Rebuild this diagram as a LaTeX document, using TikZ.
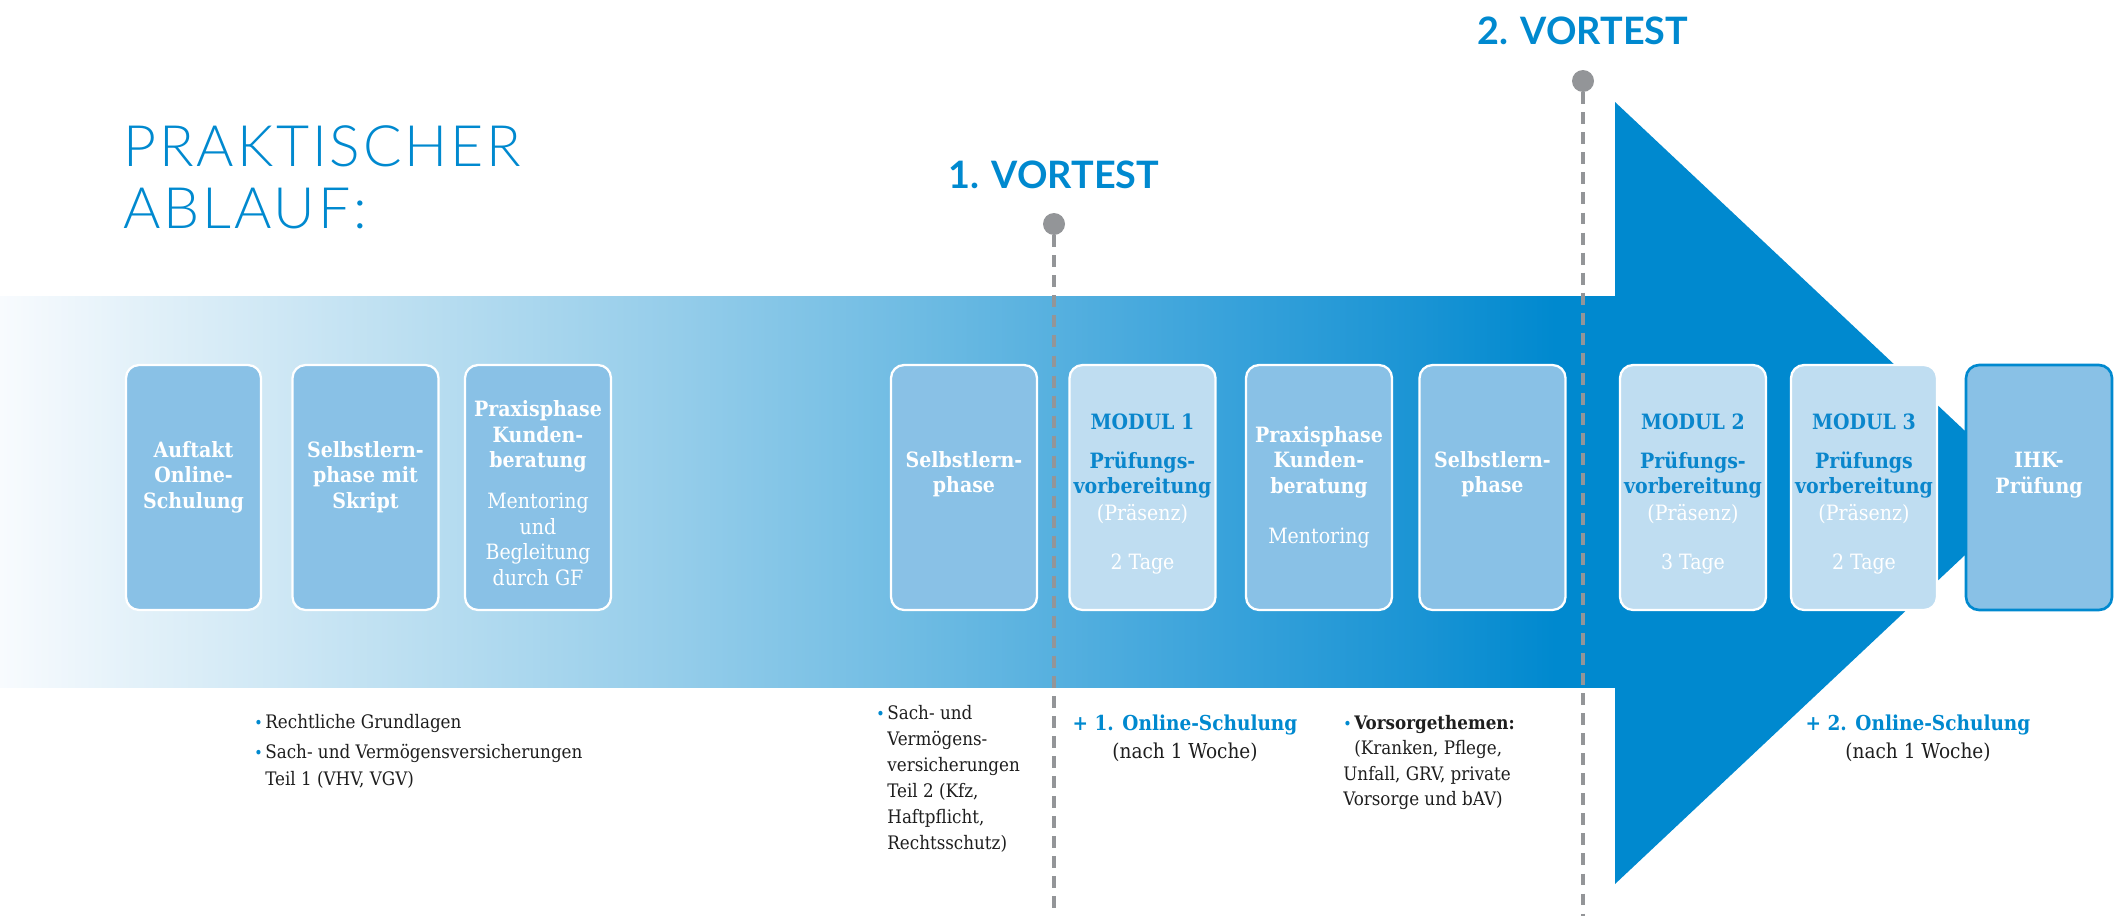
\documentclass[tikz,border=0pt]{standalone}
\usepackage{fontspec}
\setmainfont{DejaVu Serif Condensed}
\newfontfamily\headfont{Lato}
\newfontfamily\thinfont{Lato Light}[LetterSpace=5]
\usepackage{tikz}
\usetikzlibrary{positioning}
\usepackage{xcolor}
\definecolor{mainblue}{HTML}{0089CF}
\definecolor{boxblue}{HTML}{89C1E6}
\definecolor{modfill}{HTML}{BFDDF1}
\definecolor{modblue}{HTML}{0A86CC}
\definecolor{vgray}{HTML}{939598}
\definecolor{notegray}{HTML}{1E1E1E}
\definecolor{bandA}{HTML}{F8FBFE}
\definecolor{bandB}{HTML}{E3F1F9}
\definecolor{bandC}{HTML}{BCDFF1}
\definecolor{bandD}{HTML}{95CDEA}
\definecolor{bandE}{HTML}{69B9E2}
\definecolor{bandF}{HTML}{3AA3DB}
\definecolor{bandG}{HTML}{1A94D4}
\pgfdeclarehorizontalshading{bandshade}{100bp}{color(0bp)=(bandA); color(25bp)=(bandA);
  color(29.2bp)=(bandB); color(37.5bp)=(bandC); color(45.9bp)=(bandD); color(54.3bp)=(bandE);
  color(62.6bp)=(bandF); color(68.9bp)=(bandG); color(73.1bp)=(mainblue); color(100bp)=(mainblue)}
\tikzstyle{phase}=[draw=white,line width=1.3pt,rounded corners=0.26cm,fill=boxblue,minimum width=2.92cm,minimum height=4.9cm,inner sep=0]
\tikzstyle{phase modul}=[phase,fill=modfill]
\tikzstyle{phase exam}=[phase,draw=mainblue,line width=1.5pt]
\tikzstyle{btxt}=[text=white,font=\fontsize{12}{14.5}\selectfont\bfseries,align=center,inner sep=0]
\tikzstyle{rtxt}=[btxt,font=\fontsize{12}{14.5}\selectfont]
\tikzstyle{mtitle}=[btxt,text=modblue]
\tikzstyle{note}=[text=notegray,font=\fontsize{10.6}{15}\selectfont,align=left,inner sep=0,anchor=north west]
\tikzstyle{online}=[text=notegray,font=\fontsize{11.7}{15.4}\selectfont,align=center,inner sep=0,anchor=north]
\tikzstyle{vortest}=[text=mainblue,font=\headfont\bfseries\fontsize{21.5}{24}\selectfont,inner sep=0]
\tikzstyle{pin}=[circle,fill=vgray,minimum size=0.44cm,inner sep=0]
\tikzstyle{pinline}=[vgray,line width=2.3pt,dash pattern=on 6.8pt off 4.6pt]
\newcommand{\bul}{\textcolor{mainblue}{\fontsize{9}{9}\selectfont\textbullet}\hspace{1.5pt}}

\begin{document}
\begin{tikzpicture}[x=0.02cm,y=-0.02cm]
    \useasboundingbox (0,0) rectangle (2119,916);

    % ARROW
    \shade[shading=bandshade] (0,296) rectangle (1616,687);
    \fill[mainblue] (1615,102) -- (2031,493) -- (1615,884) -- cycle;

    % TITLE
    \node[anchor=north west,inner sep=0,text=mainblue,align=left,
          font=\thinfont\fontsize{32.5}{35.3}\selectfont] (title) at (123,125) {PRAKTISCHER\\ABLAUF:};

    % VORTEST MARKERS
    \foreach \n/\x/\y/\ty in {1/1054/224/175, 2/1583/81/31}{
        \node[vortest] (vt-\n) at (\x,\ty) {\n. VORTEST};
        \node[pin] (pin-\n) at (\x,\y) {};
        \coordinate (pinend-\n) at (\x,916);
        \draw[pinline] (pin-\n) -- (pinend-\n);
    }

    % PLAIN BOXES
    \foreach \n/\x/\w/\ty/\txt in {b1/193.5/2.7/477/{Auftakt\\Online-\\Schulung},
                                  b2/365.5/2.92/477/{Selbstlern-\\phase mit\\Skript},
                                  b4/964/2.92/474/{Selbstlern-\\phase},
                                  b7/1492.5/2.92/474/{Selbstlern-\\phase}}{
        \node[phase,minimum width=\w cm] (\n) at (\x,487.5) {};
        \node[btxt] (\n-txt) at (\x,\ty) {\txt};
    }

    % PRAXIS BOXES
    \node[phase] (b3) at (538,487.5) {};
    \node[btxt] (b3-txt) at (538,436.5) {Praxisphase\\Kunden-\\beratung};
    \node[rtxt] (b3-sub) at (538,539.5) {Mentoring\\und\\Begleitung\\durch GF};
    \node[phase] (b6) at (1319,487.5) {};
    \node[btxt] (b6-txt) at (1319,462) {Praxisphase\\Kunden-\\beratung};
    \node[rtxt] (b6-sub) at (1319,538) {Mentoring};

    % MODUL BOXES
    \foreach \n/\x/\modnum/\pr/\nd in {m1/1142.5/1/Prüfungs-/2, m2/1693/2/Prüfungs-/3, m3/1864/3/Prüfungs/2}{
        \node[phase modul] (\n) at (\x,487.5) {};
        \node[mtitle] (\n-head) at (\x,422) {MODUL \modnum};
        \node[mtitle] (\n-name) at (\x,475) {\pr\\vorbereitung};
        \node[rtxt] (\n-place) at (\x,514) {(Präsenz)};
        \node[rtxt] (\n-days) at (\x,564) {\nd~Tage};
    }

    % EXAM
    \node[phase exam] (b10) at (2039,487.5) {};
    \node[btxt] (b10-txt) at (2039,475) {IHK-\\Prüfung};

    % NOTES BELOW
    \node[note] (n1) at (254,714) {\bul Rechtliche Grundlagen\\[2.2pt]\bul Sach- und Vermögensversicherungen\\\hphantom{\bul}Teil 1 (VHV, VGV)};
    \node[note,font=\fontsize{10.6}{14.8}\selectfont] (n2) at (876,705) {\bul Sach- und\\\hphantom{\bul}Vermögens-\\\hphantom{\bul}versicherungen\\\hphantom{\bul}Teil 2 (Kfz,\\\hphantom{\bul}Haftpflicht,\\\hphantom{\bul}Rechtsschutz)};
    \node[online] (on1) at (1185,715) {\textcolor{mainblue}{\bfseries + 1. Online-Schulung}\\(nach 1 Woche)};
    \node[note,font=\fontsize{10.6}{14.5}\selectfont] (n3) at (1343,715) {\bul\textbf{Vorsorgethemen:}\\\hspace*{6.3pt}(Kranken, Pflege,\\Unfall, GRV, private\\Vorsorge und bAV)};
    \node[online] (on2) at (1918,715) {\textcolor{mainblue}{\bfseries + 2. Online-Schulung}\\(nach 1 Woche)};
\end{tikzpicture}
\end{document}
